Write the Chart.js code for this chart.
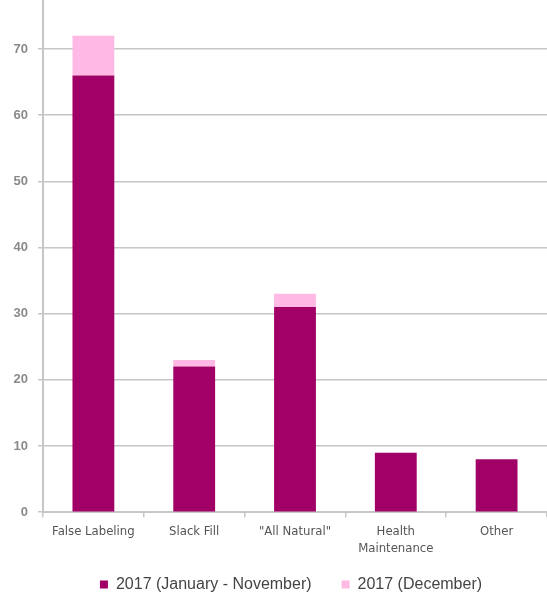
<!DOCTYPE html>
<html>
<head>
<meta charset="utf-8">
<script src="https://cdn.jsdelivr.net/npm/chart.js@4/dist/chart.umd.min.js"></script>
<style>
  html, body { margin: 0; padding: 0; background: #ffffff; }
  #wrap { position: relative; width: 547px; height: 602px; }
</style>
</head>
<body>
<div id="wrap"><canvas id="c"></canvas></div>
<script>
// Lawsuit categories and counts per period
const categories = ['False Labeling', 'Slack Fill', '"All Natural"', ['Health', 'Maintenance'], 'Other'];
const janToNov = [66, 22, 31, 9, 8];
const december = [6, 1, 2, 0, 0];
const seriesNames = ['2017 (January - November)', '2017 (December)'];
const yTickStep = 10;

const gridGray = '#c6c6c6';
const bottomOverhang = 14.2;   // legend is laid out partly below the canvas, then lifted back up
const legendLift = 13.6;

// Centre the legend row under the plot area and lift it into place
const legendShift = {
  id: 'legendShift',
  afterLayout(chart) {
    const lg = chart.legend;
    if (!lg) return;
    const dx = ((chart.chartArea.left + chart.chartArea.right) - (lg.left + lg.right)) / 2 - 4;
    lg.left += dx;
    lg.right += dx;
    lg.top -= legendLift;
    lg.bottom -= legendLift;
  }
};

new Chart(document.getElementById('c'), {
  type: 'bar',
  data: {
    labels: categories,
    datasets: [
      { label: seriesNames[0], data: janToNov, backgroundColor: '#a10066', borderWidth: 0 },
      { label: seriesNames[1], data: december, backgroundColor: '#ffb9e4', borderWidth: 0 }
    ]
  },
  plugins: [legendShift],
  options: {
    responsive: true,
    maintainAspectRatio: false,
    animation: false,
    devicePixelRatio: 1,
    layout: { padding: { top: 0, left: 0, right: 0, bottom: -bottomOverhang } },
    datasets: { bar: { barPercentage: 0.415, categoryPercentage: 1 } },
    plugins: {
      tooltip: { enabled: false },
      legend: {
        position: 'bottom',
        labels: {
          boxWidth: 8,
          boxHeight: 8,
          padding: 30,
          color: '#444444',
          font: { family: 'Liberation Sans, Arial, sans-serif', size: 16 }
        }
      }
    },
    scales: {
      x: {
        stacked: true,
        afterFit: (s) => {
          s.height = 48;
          s.paddingLeft = 0;
          s.paddingRight = 0;
        },
        grid: {
          offset: true,
          drawOnChartArea: false,
          drawTicks: true,
          tickLength: 5,
          color: gridGray,
          lineWidth: 1.5
        },
        border: { color: gridGray, width: 2 },
        ticks: {
          padding: 6,
          color: '#555555',
          maxRotation: 0,
          autoSkip: false,
          font: { family: 'DejaVu Sans Condensed, Liberation Sans Narrow, sans-serif', size: 13, lineHeight: 1.3 }
        }
      },
      y: {
        stacked: true,
        min: 0,
        max: 77.4,
        afterFit: (s) => {
          s.width = 43;
          s.paddingTop = 0;
          s.paddingBottom = 0;
        },
        afterBuildTicks: (s) => { s.ticks = s.ticks.filter(t => t.value % yTickStep === 0); },
        grid: {
          color: gridGray,
          lineWidth: 1.5,
          tickLength: 5
        },
        border: { color: gridGray, width: 2 },
        ticks: {
          stepSize: yTickStep,
          padding: 10,
          color: '#8a8a8a',
          font: { family: 'Liberation Sans, Arial, sans-serif', size: 13, weight: 'bold' }
        }
      }
    }
  }
});
</script>
</body>
</html>
